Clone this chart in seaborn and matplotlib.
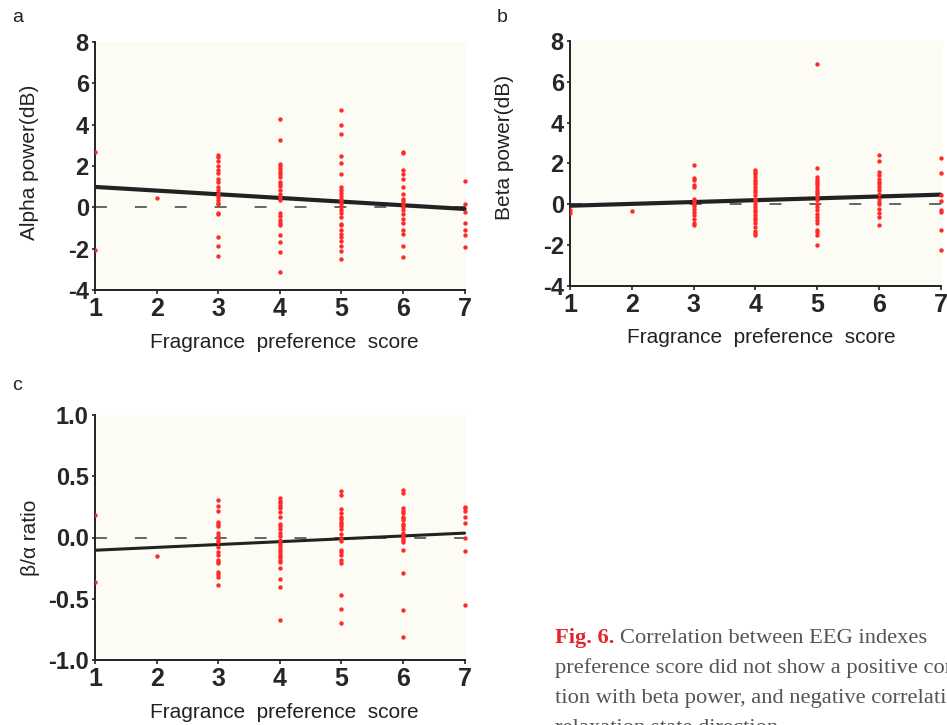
import numpy as np
import pandas as pd
import matplotlib
matplotlib.use("Agg")
import matplotlib.pyplot as plt
import seaborn as sns

# ---------------- data ----------------
scores = [1, 2, 3, 4, 5, 6, 7]

alpha_1 = [2.66, -2.06]
alpha_2 = [0.47]
alpha_3 = [2.53, 2.45, 2.25, 1.99, 1.83, 1.64, 1.39, 1.23, 0.99, 0.86, 0.66, 0.50,
           0.34, 0.21, 0.15, -0.28, -0.34, -1.44, -1.85, -2.35]
alpha_4 = [4.26, 3.26, 2.12, 1.99, 1.86, 1.72, 1.60, 1.47, 1.23, 1.12, 1.02, 0.86,
           0.66, 0.50, 0.34, -0.28, -0.44, -0.63, -0.76, -0.86, -1.34, -1.68, -2.14, -3.13]
alpha_5 = [4.73, 3.97, 3.53, 2.48, 2.15, 1.59, 0.99, 0.86, 0.70, 0.57, 0.42, 0.31,
           0.18, 0.02, -0.11, -0.28, -0.47, -0.79, -0.87, -1.12, -1.28, -1.44, -1.64,
           -1.85, -2.12, -2.49]
alpha_6 = [2.69, 2.61, 1.80, 1.60, 1.39, 0.99, 0.66, 0.42, 0.31, 0.18, 0.02, -0.15,
           -0.34, -0.55, -0.76, -1.09, -1.28, -1.85, -2.38]
alpha_7 = [1.28, 0.15, -0.23, -0.76, -1.12, -1.36, -1.93]

beta_1 = [-0.26, -0.42]
beta_2 = [-0.31]
beta_3 = [1.94, 1.29, 1.18, 0.93, 0.85, 0.28, 0.16, 0.03, -0.10, -0.21, -0.38, -0.54,
          -0.70, -0.91, -1.03]
beta_4 = [1.67, 1.58, 1.50, 1.34, 1.21, 1.09, 0.98, 0.85, 0.72, 0.59, 0.44, 0.28, 0.16,
          0.03, -0.13, -0.26, -0.38, -0.54, -0.65, -0.78, -0.91, -1.11, -1.31, -1.41, -1.52]
beta_5 = [6.85, 1.78, 1.34, 1.21, 1.09, 0.98, 0.85, 0.72, 0.60, 0.49, 0.36, 0.20, 0.03,
          -0.13, -0.29, -0.46, -0.62, -0.75, -0.91, -1.24, -1.35, -1.52, -2.01]
beta_6 = [2.43, 2.11, 1.58, 1.42, 1.26, 1.09, 0.98, 0.85, 0.69, 0.52, 0.28, 0.11, 0.03,
          -0.21, -0.42, -0.62, -1.00]
beta_7 = [2.25, 1.53, 0.44, 0.16, -0.29, -0.38, -1.27, -2.24]

ratio_1 = [0.18, -0.36]
ratio_2 = [-0.15]
ratio_3 = [0.31, 0.26, 0.22, 0.13, 0.11, 0.09, 0.04, 0.01, -0.02, -0.04, -0.08, -0.12,
           -0.14, -0.18, -0.20, -0.21, -0.28, -0.30, -0.32, -0.39]
ratio_4 = [0.32, 0.30, 0.28, 0.26, 0.24, 0.21, 0.17, 0.11, 0.09, 0.07, 0.04, 0.01, -0.02,
           -0.04, -0.05, -0.08, -0.10, -0.12, -0.14, -0.16, -0.18, -0.20, -0.25, -0.34,
           -0.40, -0.67]
ratio_5 = [0.38, 0.35, 0.23, 0.20, 0.17, 0.15, 0.13, 0.11, 0.09, 0.07, 0.03, 0.00, -0.03,
           -0.10, -0.12, -0.14, -0.18, -0.21, -0.47, -0.58, -0.70]
ratio_6 = [0.39, 0.36, 0.24, 0.22, 0.20, 0.17, 0.16, 0.14, 0.11, 0.09, 0.07, 0.04, 0.02,
           0.00, -0.02, -0.04, -0.10, -0.29, -0.59, -0.81]
ratio_7 = [0.25, 0.24, 0.22, 0.17, 0.12, 0.00, -0.11, -0.55]

alpha_groups = [alpha_1, alpha_2, alpha_3, alpha_4, alpha_5, alpha_6, alpha_7]
beta_groups = [beta_1, beta_2, beta_3, beta_4, beta_5, beta_6, beta_7]
ratio_groups = [ratio_1, ratio_2, ratio_3, ratio_4, ratio_5, ratio_6, ratio_7]

x_label = "Fragrance  preference  score"
panel_letters = ["a", "b", "c"]
y_labels = ["Alpha power(dB)", "Beta power(dB)", "β/α ratio"]
y_ticks = [[-4, -2, 0, 2, 4, 6, 8], [-4, -2, 0, 2, 4, 6, 8],
           [-1.0, -0.5, 0.0, 0.5, 1.0]]
y_tick_labels = [["-4", "-2", "0", "2", "4", "6", "8"],
                 ["-4", "-2", "0", "2", "4", "6", "8"],
                 ["-1.0", "-0.5", "0.0", "0.5", "1.0"]]

caption_head = "Fig. 6."
caption_lines = ["Correlation between EEG indexes",
                 "preference score did not show a positive cor",
                 "tion with beta power, and negative correlation",
                 "relaxation state direction."]


def to_frame(groups):
    xs, ys = [], []
    for s, g in zip(scores, groups):
        xs += [s] * len(g)
        ys += list(g)
    return pd.DataFrame({"score": xs, "value": ys})


# ---------------- style ----------------
sns.set_style("ticks")
plt.rcParams["font.family"] = ["Liberation Sans", "DejaVu Sans"]

W, H = 947, 725
fig = plt.figure(figsize=(W / 100, H / 100), dpi=100)


def px_axes(left, right, top, bottom):
    return fig.add_axes([left / W, 1 - bottom / H, (right - left) / W, (bottom - top) / H])


axes = [px_axes(95, 467, 42, 290), px_axes(570, 943, 41, 286), px_axes(95, 467, 415, 660)]
datasets = [alpha_groups, beta_groups, ratio_groups]
letter_pos = [(12, 22), (497, 22), (12, 390)]
ylabel_xy = [(30, 162), (505, 147), (30, 538)]
xlabel_xy = [(284, 343), (761, 338), (284, 713)]

bg = "#FCFBF4"
for i, ax in enumerate(axes):
    df = to_frame(datasets[i])
    ax.set_facecolor(bg)
    ax.axhline(0, color="#5a5a5a", lw=1.3, dashes=(6.6, 15.5), zorder=1)
    sns.regplot(data=df, x="score", y="value", ax=ax, scatter=False, ci=None,
                line_kws=dict(color="#222222", lw=3.0 if i < 2 else 2.2, zorder=2))
    sns.scatterplot(data=df, x="score", y="value", ax=ax, color="#ff2a2a", s=10,
                    linewidth=0, zorder=3)
    ax.set_xlim(1, 7.04)
    ax.set_ylim(y_ticks[i][0], y_ticks[i][-1])
    ax.spines["bottom"].set_bounds(1, 7)
    for side in ["top", "right"]:
        ax.spines[side].set_visible(False)
    for side in ["left", "bottom"]:
        ax.spines[side].set_linewidth(1.4)
        ax.spines[side].set_color("#222222")
    ax.set_xticks(scores)
    ax.set_xticklabels([str(s) for s in scores], fontsize=18, fontweight="bold")
    ax.set_yticks(y_ticks[i])
    ax.set_yticklabels(y_tick_labels[i], fontsize=17, fontweight="bold")
    ax.tick_params(axis="x", length=3, width=1.2, pad=2, color="#222222")
    ax.tick_params(axis="y", length=2.5, width=1.2, pad=2, color="#222222")
    ax.set_xlabel("")
    ax.set_ylabel("")
    xx, xy = xlabel_xy[i]
    fig.text(xx / W, 1 - xy / H, x_label, fontsize=15,
             ha="center", va="center", color="#222222")
    yx, yy = ylabel_xy[i]
    fig.text(yx / W, 1 - yy / H, y_labels[i], fontsize=15,
             rotation=90, ha="center", va="center", color="#222222")
    lx, ly = letter_pos[i]
    fig.text(lx / W, 1 - ly / H, panel_letters[i], fontsize=14, ha="left",
             va="baseline", color="#222222")

# ---------------- caption ----------------
cap_x = 555
baselines = [643, 673, 703, 733]
cap_size = 16.2
fig.canvas.draw()
renderer = fig.canvas.get_renderer()
head = fig.text(cap_x / W, 1 - baselines[0] / H, caption_head, fontsize=cap_size,
                fontweight="bold", color="#e3242b", family="Liberation Serif",
                va="baseline")
bb = head.get_window_extent(renderer)
fig.text((bb.x1 + 6) / W, 1 - baselines[0] / H, caption_lines[0], fontsize=cap_size,
         color="#555555", family="Liberation Serif", va="baseline")
for line, b in zip(caption_lines[1:], baselines[1:]):
    fig.text(cap_x / W, 1 - b / H, line, fontsize=cap_size, color="#555555",
             family="Liberation Serif", va="baseline")

fig.savefig("out.png", dpi=100, facecolor="white")
